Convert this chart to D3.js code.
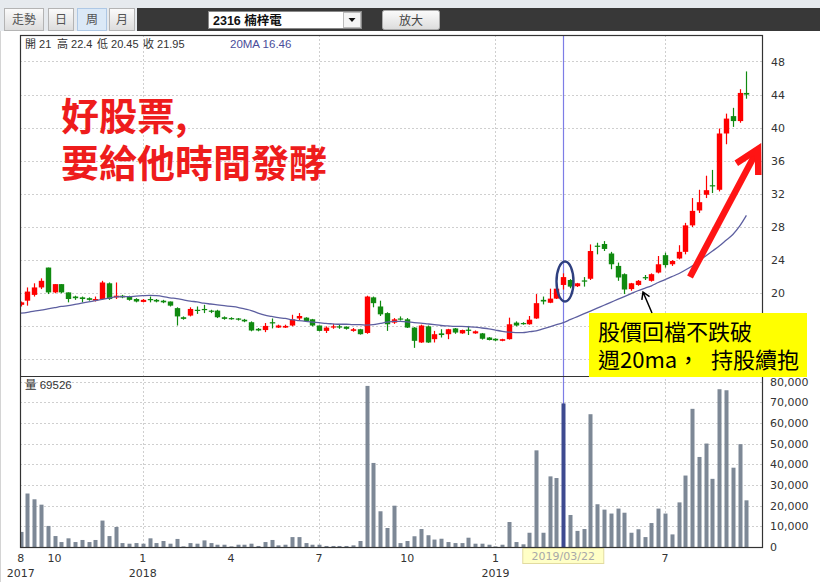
<!DOCTYPE html>
<html><head><meta charset="utf-8">
<script src="https://cdn.jsdelivr.net/npm/d3@7/dist/d3.min.js"></script>
<style>
html,body{margin:0;padding:0;background:#fff;}
svg{display:block;}
</style></head>
<body>
<svg id="chart" width="820" height="582"></svg>
<script>
// ---------------- DATA (weekly bars, 2017/08 .. 2019/09) ----------------
const open = [
18.6,19.1,19.8,20.7,23.1,20.1,21.1,20.1,19.6,19.5,
19.4,19.1,19.3,21.2,19.5,19.7,19.6,19.3,18.95,19.3,
19.2,19.1,19.0,18.2,17.1,17.3,18.0,18.1,17.9,17.9,
17.1,17.0,16.95,16.8,16.5,15.7,15.55,16.5,15.85,15.85,
16.1,16.95,17.05,16.85,16.1,15.45,15.85,16.0,15.95,15.45,
15.65,15.2,19.5,18.4,17.6,16.45,16.95,16.85,15.85,14.05,
16.0,14.45,15.15,15.05,15.75,15.15,15.6,15.15,15.15,14.65,
14.5,14.25,14.45,16.45,16.4,16.25,16.95,19.2,18.85,19.35,
21.0,21.6,20.85,21.55,21.75,25.75,25.95,24.8,23.3,22.3,
20.5,21.0,21.95,21.5,22.5,24.6,23.5,24.2,25.0,28.2,
30.0,31.9,33.05,32.5,39.3,41.4,40.8,44.2];
const high = [
19.0,20.7,21.2,21.8,23.1,21.1,21.1,20.1,19.7,19.6,
19.5,19.6,21.5,21.3,21.3,19.8,19.7,19.4,19.3,19.6,
19.3,19.2,19.0,18.3,17.2,18.3,18.4,18.6,18.0,18.0,
17.2,17.1,17.0,16.9,16.6,15.8,16.4,16.95,16.2,16.2,
17.4,17.6,17.1,16.9,16.1,16.0,16.3,16.2,16.0,15.8,
15.7,19.7,19.6,19.1,17.7,17.0,17.2,17.0,15.9,16.2,
16.1,15.45,15.65,15.7,15.8,15.6,16.05,15.5,15.2,14.7,
14.55,14.5,17.05,16.6,16.5,17.25,19.9,19.6,20.55,20.6,
22.4,21.7,21.25,21.95,25.9,26.1,26.3,25.0,23.7,22.4,
21.25,21.6,22.2,22.4,24.5,24.9,24.0,25.8,28.5,31.5,
32.5,34.2,34.9,39.9,41.7,42.4,44.65,46.8];
const low = [
18.4,18.5,19.6,20.5,19.9,20.0,20.0,18.9,19.2,18.9,
19.1,19.0,19.2,19.2,19.3,19.4,19.1,18.9,18.9,18.9,
18.9,18.8,18.4,16.1,16.8,17.2,17.5,17.6,17.6,17.0,
16.8,16.8,16.7,16.5,15.4,15.4,15.3,15.75,15.8,15.8,
16.0,16.75,16.6,16.0,15.4,15.2,15.7,15.7,15.6,15.35,
15.0,15.1,18.3,17.25,15.45,16.3,16.7,15.8,13.4,14.0,
14.0,14.05,14.65,14.45,15.1,15.1,14.95,15.1,14.4,14.3,
14.2,14.2,14.4,16.0,16.2,16.2,16.9,18.65,18.8,19.3,
20.45,20.6,20.75,20.8,21.6,24.7,25.1,22.9,21.5,19.9,
20.3,20.9,21.6,21.4,22.4,23.1,23.3,24.1,24.7,28.0,
29.7,31.5,32.1,32.3,38.0,40.1,40.6,43.5];
const close = [
18.9,20.2,20.7,21.5,20.1,21.1,20.1,19.3,19.4,19.3,
19.2,19.3,21.3,19.3,19.7,19.5,19.2,19.0,19.2,19.2,
19.0,18.9,18.5,17.2,16.9,18.1,17.9,18.0,17.8,17.1,
16.9,16.85,16.8,16.6,15.5,15.5,16.05,16.35,16.1,16.05,
16.85,17.25,16.65,16.1,15.45,15.85,16.0,15.85,15.7,15.65,
15.05,19.6,18.8,17.45,16.25,16.85,16.85,15.85,14.25,16.1,
14.05,15.05,14.95,15.65,15.25,15.55,15.45,15.4,14.5,14.35,
14.3,14.45,16.25,16.1,16.3,16.8,18.8,19.0,19.35,20.55,
21.95,20.8,21.2,21.4,25.1,25.6,25.35,23.5,21.9,20.45,
21.2,21.5,21.8,22.3,23.5,23.4,23.9,25.0,28.2,29.95,
31.0,32.45,32.95,39.3,41.1,40.8,44.2,44.0];
const volume = [
7300,25900,23100,20500,10200,5300,2400,4200,2400,3400,
2400,3400,12800,5300,9700,1900,1600,1900,1600,4200,
1900,2900,1600,3900,300,1900,1600,3200,1900,1100,
1100,300,1100,1100,1600,500,2400,3400,800,1100,
4800,4800,1900,1100,1100,500,500,500,500,800,
2900,78000,40700,17300,9200,20000,1900,2900,5200,8700,
5700,3600,4000,2400,1900,1900,4500,1600,1600,1100,
300,1100,12100,2400,1300,6900,46800,6900,34200,33400,
69526,15500,7800,8700,64300,20700,18100,16200,18600,16600,
6900,8600,4800,11600,18600,16200,6100,21600,34600,66900,
43600,50100,33000,76400,75900,38400,49800,22600];
const ma20 = [
17.6,17.7,17.85,17.95,18.1,18.25,18.4,18.5,18.65,18.8,
18.95,19.1,19.25,19.4,19.55,19.6,19.6,19.65,19.7,19.75,
19.7,19.6,19.45,19.35,19.2,19.05,18.95,18.8,18.7,18.6,
18.5,18.4,18.3,18.1,17.9,17.6,17.35,17.2,17.05,16.95,
16.8,16.7,16.6,16.5,16.45,16.35,16.3,16.25,16.25,16.2,
16.2,16.15,16.2,16.35,16.5,16.6,16.6,16.55,16.45,16.4,
16.3,16.2,16.1,16.05,16.0,16.0,15.95,15.9,15.8,15.7,
15.55,15.4,15.3,15.25,15.25,15.35,15.45,15.7,15.95,16.2,
16.46,16.8,17.15,17.5,17.85,18.2,18.55,18.9,19.25,19.6,
19.95,20.3,20.6,20.9,21.3,21.65,22.0,22.35,22.8,23.3,
23.9,24.5,25.1,25.7,26.4,27.1,28.1,29.4];
// x-axis labels (week index -> month / year); the "4" of 2019 sits under the date box and is not shown
const tickIndex = [0, 5, 18, 31, 44, 57, 70, 95];
const tickMonth = ["8","10","1","4","7","10","1","7"];
const yearIndex = [0, 18, 70];
const yearLabel = ["2017","2018","2019"];
const gridIndex = [18, 44, 70, 95];
const priceGrid = [12,16,20,24,28,32,36,40,44,48];
const priceLabels = [20,24,28,32,36,40,44,48];   // 12 and 16 are hidden by the note box
const volTicks = [0,10000,20000,30000,40000,50000,60000,70000,80000];
const selIndex = 80;
const selDate = "2019/03/22";

// ---------------- LAYOUT ----------------
const xL = 20, xR = 762, pTop = 35, pBot = 376, vBot = 547;
const svg = d3.select("#chart");
const x = d3.scaleLinear().domain([-0.1, 109.3]).range([xL, xR]);
const y = d3.scaleLinear().domain([10, 51.2]).range([pBot, pTop]);
const yv = d3.scaleLinear().domain([0, 82800]).range([vBot, pBot]);
const UP = "#ff0000", DOWN = "#108a10";
const idx = d3.range(open.length);

// ---------------- TOOLBAR ----------------
svg.append("rect").attr("x",0).attr("y",0).attr("width",820).attr("height",31).attr("fill","#e6eaee");
svg.append("rect").attr("x",137).attr("y",8).attr("width",683).attr("height",23).attr("fill","#383838");
const defs = svg.append("defs");
const grad = defs.append("linearGradient").attr("id","btn").attr("x1",0).attr("y1",0).attr("x2",0).attr("y2",1);
grad.append("stop").attr("offset","0%").attr("stop-color","#fbfbfb");
grad.append("stop").attr("offset","100%").attr("stop-color","#dcdcdc");
const btns = [{t:"走勢",x:4,w:39},{t:"日",x:48,w:25},{t:"周",x:77,w:29,sel:true},{t:"月",x:109,w:25}];
btns.forEach(b=>{
  svg.append("rect").attr("x",b.x+0.5).attr("y",8.5).attr("width",b.w).attr("height",22)
    .attr("fill", b.sel ? "#dbe9f7" : "url(#btn)").attr("stroke", b.sel ? "#7aa7d6" : "#b4b4b4")
    .attr("stroke-dasharray", b.sel ? "1,1" : null);
  svg.append("text").attr("x",b.x+b.w/2+0.5).attr("y",24).attr("text-anchor","middle")
    .attr("font-family","'Noto Sans CJK TC'").attr("font-size",12).attr("fill","#555").text(b.t);
});
svg.append("rect").attr("x",208.5).attr("y",11.5).attr("width",153).attr("height",17).attr("fill","#fff").attr("stroke","#888");
svg.append("rect").attr("x",343.5).attr("y",12.5).attr("width",17).attr("height",15).attr("fill","#f4f4f4").attr("stroke","#bbb");
svg.append("path").attr("d","M348.5,18 L355.5,18 L352,22 Z").attr("fill","#111");
svg.append("text").attr("x",213).attr("y",25).attr("font-family","'Liberation Sans','Noto Sans CJK TC'").attr("font-size",12.5)
  .attr("font-weight",700).attr("fill","#111").text("2316 楠梓電");
svg.append("rect").attr("x",382.5).attr("y",10.5).attr("width",57).attr("height",19).attr("rx",2).attr("fill","url(#btn)").attr("stroke","#aaa");
svg.append("text").attr("x",411).attr("y",25).attr("text-anchor","middle").attr("font-family","'Noto Sans CJK TC'")
  .attr("font-size",12).attr("fill","#444").text("放大");
svg.append("line").attr("x1",0.5).attr("x2",0.5).attr("y1",31).attr("y2",582).attr("stroke","#d4d4d4");

// ---------------- GRID ----------------
const grid = svg.append("g").attr("stroke","#cfcfcf").attr("stroke-dasharray","2,2").attr("stroke-width",1);
priceGrid.forEach(t=>{
  const yy = Math.round(y(t))+0.5;
  grid.append("line").attr("x1",xL).attr("x2",xR).attr("y1",yy).attr("y2",yy);
});
volTicks.filter(t=>t>0).forEach(t=>{
  const yy = Math.round(yv(t))+0.5;
  grid.append("line").attr("x1",xL).attr("x2",xR).attr("y1",yy).attr("y2",yy);
});
gridIndex.forEach(i=>{
  const xx = Math.round(x(i))+0.5;
  grid.append("line").attr("x1",xx).attr("x2",xx).attr("y1",pTop).attr("y2",vBot);
});

// selection line
const sx = Math.round(x(selIndex))+0.5;
svg.append("line").attr("x1",sx).attr("x2",sx).attr("y1",pTop).attr("y2",vBot).attr("stroke","#7d7de6").attr("stroke-width",1.2);

// ---------------- CLIPS ----------------
defs.append("clipPath").attr("id","cp").append("rect").attr("x",xL).attr("y",pTop).attr("width",xR-xL).attr("height",pBot-pTop);
defs.append("clipPath").attr("id","cv").append("rect").attr("x",xL).attr("y",pBot).attr("width",xR-xL).attr("height",vBot-pBot);

// ---------------- CANDLES ----------------
const pg = svg.append("g").attr("clip-path","url(#cp)");
const bw = 5.4;
const cg = pg.selectAll("g.c").data(idx).join("g").attr("class","c");
cg.append("line")
  .attr("x1",i=>Math.round(x(i))+0.5).attr("x2",i=>Math.round(x(i))+0.5)
  .attr("y1",i=>y(high[i])).attr("y2",i=>y(low[i]))
  .attr("stroke",i=>close[i]>=open[i]?UP:DOWN).attr("stroke-width",1.2);
cg.append("rect")
  .attr("x",i=>Math.round(x(i))+0.5-bw/2).attr("width",bw)
  .attr("y",i=>Math.min(y(open[i]),y(close[i])))
  .attr("height",i=>Math.max(1.2,Math.abs(y(open[i])-y(close[i]))))
  .attr("fill",i=>close[i]>=open[i]?UP:DOWN);

// MA line
pg.append("path").datum(idx)
  .attr("d", d3.line().x(i=>x(i)).y(i=>y(ma20[i])).curve(d3.curveMonotoneX))
  .attr("fill","none").attr("stroke","#5d5fa0").attr("stroke-width",1.3);

// ---------------- VOLUME ----------------
const vg = svg.append("g").attr("clip-path","url(#cv)");
vg.selectAll("rect").data(idx).join("rect")
  .attr("x",i=>Math.round(x(i))+0.5-2).attr("width",4)
  .attr("y",i=>yv(volume[i])).attr("height",i=>yv(0)-yv(volume[i]))
  .attr("fill",i=>i===selIndex?"#3e4a90":"#7d8896");

// ---------------- FRAME ----------------
svg.append("rect").attr("x",xL+0.5).attr("y",pTop+0.5).attr("width",xR-xL).attr("height",vBot-pTop)
  .attr("fill","none").attr("stroke","#333").attr("stroke-width",1.2);
svg.append("line").attr("x1",xL).attr("x2",xR).attr("y1",pBot+0.5).attr("y2",pBot+0.5).attr("stroke","#333").attr("stroke-width",1.2);

// ---------------- AXES ----------------
const axFont = "'DejaVu Sans', Verdana, sans-serif";
const ay = svg.append("g").attr("transform",`translate(${xR},0)`)
  .call(d3.axisRight(y).tickValues(priceLabels).tickSize(0).tickPadding(9).tickFormat(d3.format("d")));
const av = svg.append("g").attr("transform",`translate(${xR},0)`)
  .call(d3.axisRight(yv).tickValues(volTicks).tickSize(0).tickPadding(8).tickFormat(d3.format(",")));
[ay,av].forEach(a=>{
  a.select(".domain").remove();
  a.selectAll("text").attr("font-family",axFont).attr("font-size",11).attr("fill","#333");
});
const ax = svg.append("g");
tickIndex.forEach((i,k)=>{
  ax.append("text").attr("x",x(i)).attr("y",562).attr("text-anchor","middle")
    .attr("font-family",axFont).attr("font-size",11).attr("fill","#333").text(tickMonth[k]);
});
yearIndex.forEach((i,k)=>{
  ax.append("text").attr("x",Math.max(18.5,x(i))).attr("y",577).attr("text-anchor","middle")
    .attr("font-family",axFont).attr("font-size",11).attr("fill","#333").text(yearLabel[k]);
});

// tooltip date box
const tw = 81;
svg.append("rect").attr("x",x(selIndex)-tw/2).attr("y",548.5).attr("width",tw).attr("height",15)
  .attr("fill","#ffffc6").attr("stroke","#e2dba0");
svg.append("text").attr("x",x(selIndex)).attr("y",560).attr("text-anchor","middle")
  .attr("font-family",axFont).attr("font-size",11).attr("fill","#a8a8a8").text(selDate);

// ---------------- HEADER TEXTS ----------------
const hf = "'Noto Sans CJK TC', sans-serif";
const sf = "'Liberation Sans','Noto Sans CJK TC', sans-serif";
const hdr = [["開 " + open[selIndex], 25],["高 " + high[selIndex], 57],["低 " + low[selIndex], 97],["收 " + close[selIndex], 143]];
hdr.forEach(h=>svg.append("text").attr("x",h[1]).attr("y",48).attr("font-family",sf).attr("font-size",11).attr("fill","#333").text(h[0]));
svg.append("text").attr("x",230).attr("y",48).attr("font-family",sf).attr("font-size",11.5).attr("fill","#4a4d9a").text("20MA " + ma20[selIndex]);
svg.append("text").attr("x",25).attr("y",389).attr("font-family",sf).attr("font-size",11.5).attr("fill","#333").text("量 " + volume[selIndex]);

// ---------------- ANNOTATIONS ----------------
svg.append("text").attr("x",61).attr("y",130).attr("font-family",hf).attr("font-weight",700).attr("font-size",38)
  .attr("fill","#ee1c1c").text("好股票,");
svg.append("text").attr("x",61).attr("y",177).attr("font-family",hf).attr("font-weight",700).attr("font-size",38)
  .attr("fill","#ee1c1c").text("要給他時間發酵");

// ellipse around selected candle
svg.append("ellipse").attr("cx",565).attr("cy",281.5).attr("rx",8.5).attr("ry",20)
  .attr("fill","none").attr("stroke","#2e3f7f").attr("stroke-width",2.4);

function arrow(x1,y1,x2,y2,len,ang){
  const a = Math.atan2(y1-y2,x1-x2);
  const p1 = [x2+len*Math.cos(a+ang), y2+len*Math.sin(a+ang)];
  const p2 = [x2+len*Math.cos(a-ang), y2+len*Math.sin(a-ang)];
  return {shaft:`M${x1},${y1}L${x2},${y2}`, head:`M${p1[0]},${p1[1]}L${x2},${y2}L${p2[0]},${p2[1]}`};
}
// red arrow
const ra = arrow(690,277,758,149,26,0.5);
svg.append("path").attr("d",ra.shaft).attr("stroke","#ff1414").attr("stroke-width",6.5).attr("fill","none");
svg.append("path").attr("d",ra.head).attr("stroke","#ff1414").attr("stroke-width",6.5).attr("fill","none").attr("stroke-linejoin","miter");

// yellow note box
svg.append("rect").attr("x",589).attr("y",313).attr("width",218).attr("height",64).attr("fill","#ffff00");
svg.append("text").attr("x",598).attr("y",340).attr("font-family",hf).attr("font-size",22).attr("fill","#000").text("股價回檔不跌破");
const t2 = svg.append("text").attr("y",368).attr("font-family",hf).attr("font-size",22).attr("fill","#000");
t2.append("tspan").attr("x",598).text("週20ma，");
t2.append("tspan").attr("x",711).text("持股續抱");

// black arrow
const ba = arrow(652,313,643,292,8,0.55);
svg.append("path").attr("d",ba.shaft+ba.head).attr("stroke","#000").attr("stroke-width",1.5).attr("fill","none");
</script>
</body></html>
